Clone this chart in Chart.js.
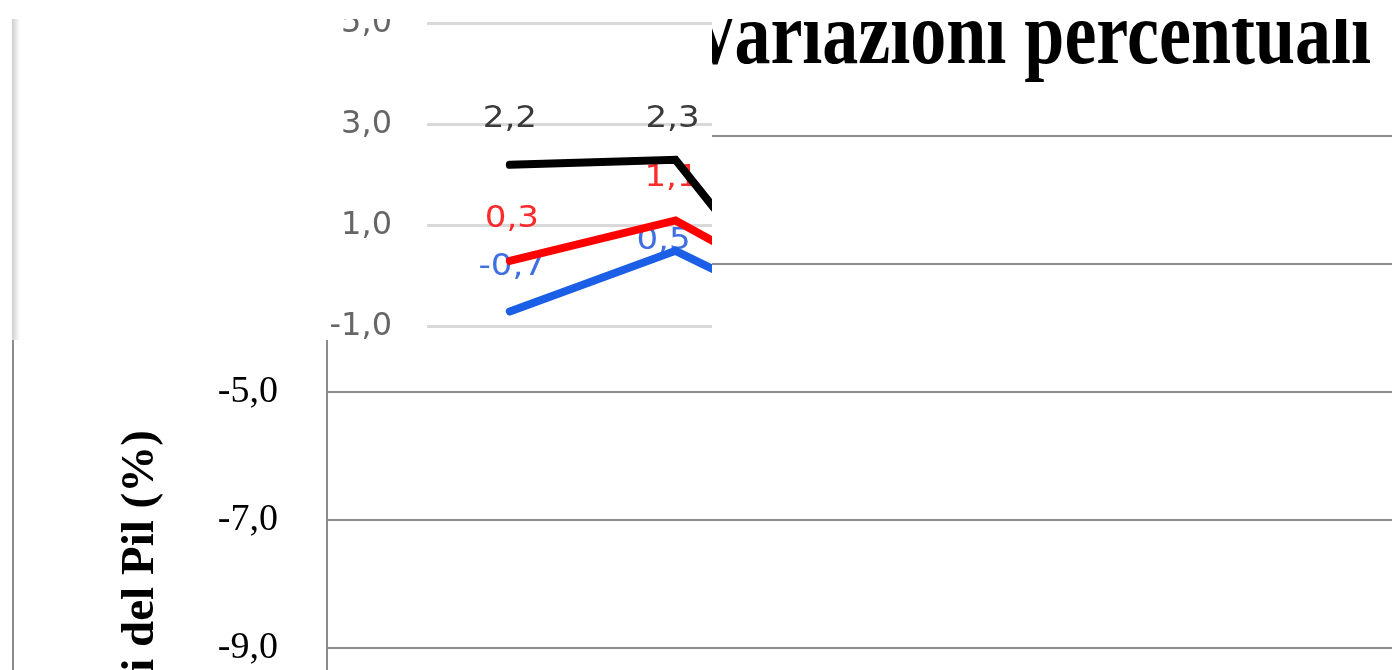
<!DOCTYPE html>
<html lang="it">
<head>
<meta charset="utf-8">
<title>Variazioni percentuali del Pil</title>
<script src="https://cdn.jsdelivr.net/npm/chart.js@4.4.1/dist/chart.umd.min.js"></script>
<style>
  html, body { margin: 0; padding: 0; width: 1392px; height: 670px; overflow: hidden; background: #fff; }
  #pagina { position: relative; width: 1392px; height: 670px; overflow: hidden; background: #fff; }
  #cornice { position: absolute; left: 12px; top: 0; width: 2px; height: 670px; background: #8c8c8c; }
  #grande { position: absolute; left: 14px; top: -11px; }
  #riquadro { position: absolute; left: 12px; top: 19px; width: 700px; height: 321px; overflow: hidden; background: #fff; }
  #piccolo { position: absolute; left: 0; top: -50px; filter: blur(0.7px); }
  #bordo { position: absolute; left: 0; top: 0; width: 8px; height: 100%; background: linear-gradient(to right, #cfcfcf, #ffffff); }
  #margine { position: absolute; left: 0; top: 0; width: 1392px; height: 19px; background: #fff; }
</style>
</head>
<body>
<div id="pagina">
  <div id="cornice"></div>
  <canvas id="grande" width="2032" height="1243"></canvas>
  <div id="riquadro">
    <canvas id="piccolo" width="930" height="513"></canvas>
    <div id="bordo"></div>
  </div>
  <div id="margine"></div>
</div>
<script>
// Periodi e variazioni del Pil (%) per le tre serie
const periodi = ['P1', 'P2', 'P3'];
const serieNera = [2.2, 2.3, -1.8];
const serieRossa = [0.3, 1.1, -0.7];
const serieBlu = [-0.7, 0.5, -1.1];

// Valori delle tacche dell'asse verticale principale
const tacchePrincipali = [-17, -15, -13, -11, -9, -7, -5, -3, -1];

// Testi
const titoloPrincipale = 'Variazioni percentuali';
const titoloAsse = 'Variazioni del Pil (%)';

// Spostamento [dx, dy] delle etichette rispetto al punto
const spostamentiEtichette = [
  [[0, 46], [-3, 41], [0, 44]],
  [[2, 42], [-4, 42], [0, 44]],
  [[2, 45], [-12, 10], [0, 44]]
];
const coloriEtichette = ['#3a3a3a', '#ff2a2a', '#3f6fe0'];

const formato = v => Number(v).toFixed(1).replace('.', ',');

// Etichette dei valori, disegnate sotto le linee
const etichetteDati = {
  id: 'etichetteDati',
  beforeDatasetsDraw(chart) {
    const ctx = chart.ctx;
    chart.data.datasets.forEach((ds, i) => {
      const meta = chart.getDatasetMeta(i);
      meta.data.forEach((pt, j) => {
        const [dx, dy] = spostamentiEtichette[i][j];
        ctx.save();
        ctx.translate(pt.x + dx, pt.y - dy);
        ctx.scale(1.1, 1);
        ctx.font = '31px "DejaVu Sans"';
        ctx.fillStyle = coloriEtichette[i];
        ctx.textAlign = 'center';
        ctx.textBaseline = 'middle';
        ctx.fillText(formato(ds.data[j]), 0, 0);
        ctx.restore();
      });
    });
  }
};

// Titolo principale in grassetto, leggermente allungato in altezza
const titoloGrande = {
  id: 'titoloGrande',
  afterDraw(chart, args, opts) {
    const ctx = chart.ctx;
    ctx.save();
    ctx.font = 'bold 72px "Liberation Serif"';
    ctx.fillStyle = '#000';
    ctx.textAlign = 'center';
    ctx.textBaseline = 'alphabetic';
    ctx.translate(chart.width / 2, opts.linea);
    ctx.scale(1, 1.24);
    ctx.fillText(opts.testo, 0, 0);
    ctx.restore();
  }
};

// Grafico principale: titolo, asse verticale e griglia
new Chart(document.getElementById('grande'), {
  type: 'line',
  data: { labels: periodi, datasets: [] },
  options: {
    responsive: false,
    animation: false,
    layout: { padding: { top: 147, bottom: 72, left: 0, right: 0 } },
    plugins: {
      legend: { display: false },
      tooltip: { enabled: false },
      title: { display: false },
      titoloGrande: { testo: titoloPrincipale, linea: 74 }
    },
    scales: {
      x: { display: false },
      y: {
        min: -17,
        max: -1,
        afterBuildTicks: s => { s.ticks = tacchePrincipali.map(v => ({ value: v })); },
        afterFit: s => { s.width = 313; },
        ticks: {
          padding: 49,
          color: '#000',
          font: { family: 'Liberation Serif', size: 38 },
          callback: v => formato(v)
        },
        grid: { color: '#8c8c8c', lineWidth: 2, drawTicks: false },
        border: { display: true, color: '#8c8c8c', width: 2 },
        title: {
          display: true,
          text: titoloAsse,
          color: '#000',
          font: { family: 'Liberation Serif', size: 47, weight: 'bold', lineHeight: 1.2 },
          padding: { top: 99, bottom: 0 }
        }
      }
    }
  },
  plugins: [titoloGrande]
});

// Grafico di dettaglio con le tre linee
const stileLinea = { borderWidth: 8, pointRadius: 0, tension: 0, borderCapStyle: 'round', borderJoinStyle: 'miter', fill: false };
new Chart(document.getElementById('piccolo'), {
  type: 'line',
  data: {
    labels: periodi,
    datasets: [
      Object.assign({ label: 'Serie nera', data: serieNera, borderColor: '#000000' }, stileLinea),
      Object.assign({ label: 'Serie rossa', data: serieRossa, borderColor: '#ff0000' }, stileLinea),
      Object.assign({ label: 'Serie blu', data: serieBlu, borderColor: '#1a5fe6' }, stileLinea)
    ]
  },
  options: {
    responsive: false,
    animation: false,
    layout: { padding: { top: 54, bottom: 54, left: 0, right: 18 } },
    plugins: {
      legend: { display: false },
      tooltip: { enabled: false },
      title: { display: false }
    },
    scales: {
      x: { display: false, offset: true },
      y: {
        min: -3,
        max: 5,
        afterFit: s => { s.width = 415; },
        ticks: {
          stepSize: 2,
          padding: 35,
          color: '#666666',
          font: { family: 'DejaVu Sans', size: 32 },
          callback: v => formato(v)
        },
        grid: { color: '#d9d9d9', lineWidth: 3, drawTicks: false },
        border: { display: false }
      }
    }
  },
  plugins: [etichetteDati]
});
</script>
</body>
</html>
